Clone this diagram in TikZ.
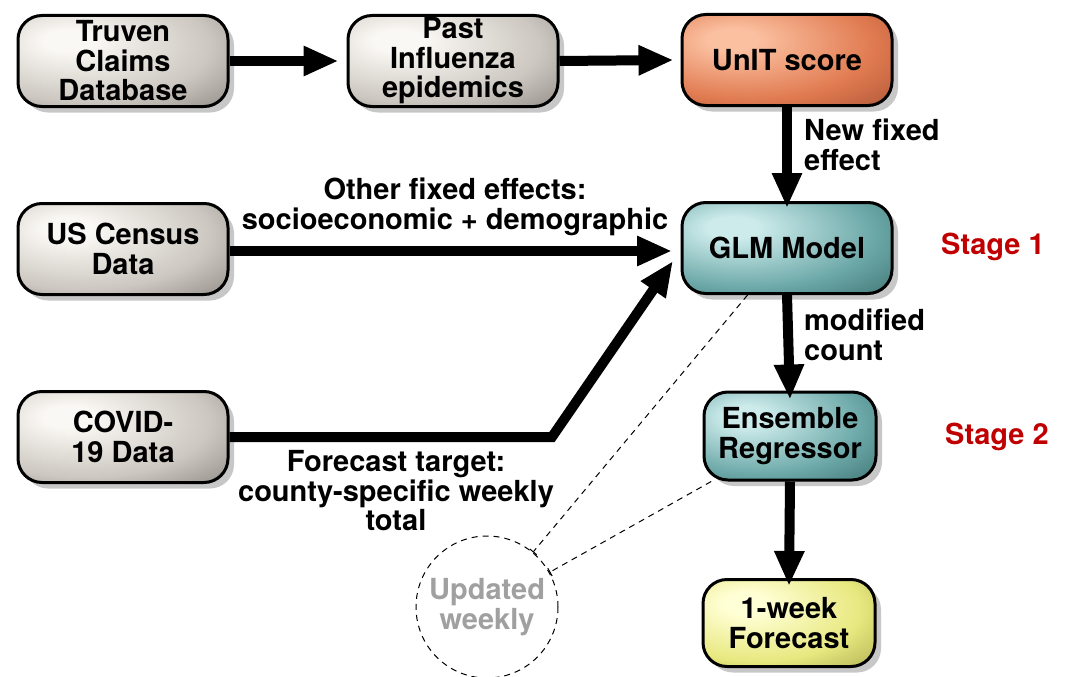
\documentclass[tikz,border=0pt]{standalone}
\usepackage{fontspec}
\setmainfont{TeX Gyre Heros}
\usetikzlibrary{arrows.meta,shadows,shapes.geometric}
\definecolor{ghi}{HTML}{FAF8F4}\definecolor{gmid}{HTML}{CCC7C0}\definecolor{glo}{HTML}{6E6A64}
\definecolor{ohi}{HTML}{FBC0A0}\definecolor{omid}{HTML}{E07A50}\definecolor{olo}{HTML}{94442A}
\definecolor{thi}{HTML}{CDEBEB}\definecolor{tmid}{HTML}{6CA8A8}\definecolor{tlo}{HTML}{285858}
\definecolor{yhi}{HTML}{FFFFD6}\definecolor{ymid}{HTML}{E8E880}\definecolor{ylo}{HTML}{909036}
\definecolor{stagered}{HTML}{C00000}
\definecolor{updgray}{HTML}{A0A0A0}
\newcommand\mkboxshade[4]{\pgfdeclareradialshading{#1}{\pgfpoint{-14bp}{12bp}}{color(0bp)=(#2); color(6bp)=(#2); color(30bp)=(#3); color(55bp)=(#4); color(90bp)=(#4)}}
\mkboxshade{grayshade}{ghi}{gmid}{glo}
\mkboxshade{orangeshade}{ohi}{omid}{olo}
\mkboxshade{tealshade}{thi}{tmid}{tlo}
\mkboxshade{yellowshade}{yhi}{ymid}{ylo}
\tikzset{
  txt/.style={font=\bfseries\fontsize{29}{29.5}\selectfont, align=center, inner sep=1pt},
  boxbase/.style={txt, draw=black, line width=3pt, rounded corners=24pt,
    minimum width=210pt, minimum height=91pt,
    drop shadow={shadow xshift=6pt, shadow yshift=-6pt, fill=black!22, opacity=1}},
  graybox/.style={boxbase, shading=grayshade},
  orangebox/.style={boxbase, shading=orangeshade},
  tealbox/.style={boxbase, shading=tealshade},
  yellowbox/.style={boxbase, shading=yellowshade},
  bigarrow/.style={line width=10pt, -{Triangle[length=35pt,width=28pt]}},
  dashline/.style={line width=1pt, dash pattern=on 6pt off 5pt, -{Bar[width=9pt,line width=1pt]}},
}
\begin{document}
\begin{tikzpicture}[x=1pt,y=-1pt]
\useasboundingbox (0,0) rectangle (1066,677);
\node[graybox] (truven) at (123,61) {Truven\\Claims\\Database};
\node[graybox] (past) at (453,61) {Past\\Influenza\\epidemics};
\node[orangebox] (unit) at (787,60) {UnIT score};
\node[graybox] (census) at (123,249) {US Census\\Data};
\node[tealbox] (glm) at (787,248) {GLM Model};
\node[graybox] (covid) at (123,437) {COVID-\\19 Data};
\node[tealbox, minimum width=172pt, minimum height=88pt] (ens) at (790,436) {Ensemble\\Regressor};
\node[yellowbox, minimum width=172pt, minimum height=87pt] (fc) at (789,623) {1-week\\Forecast};
\node[txt, text=stagered] (s1) at (993,247) {Stage 1};
\node[txt, text=stagered] (s2) at (997,437) {Stage 2};
\node[circle, draw=black, line width=1pt, dash pattern=on 6pt off 5pt, minimum size=142pt] (upd) at (487,607) {};
\node[txt, text=updgray] (updt) at (487,607) {Updated\\weekly};
\node[txt] (lother) at (455,207) {Other fixed effects:\\socioeconomic + demographic};
\node[txt, anchor=west, align=left] (lnew) at (803,145) {New fixed\\effect};
\node[txt, anchor=west, align=left] (lmod) at (803,335) {modified\\count};
\node[txt] (lfc) at (396,491) {Forecast target:\\county-specific weekly\\total};
\coordinate (bend) at (552,437);
\draw[bigarrow] (truven.east) -- ([xshift=-8pt]past.west);
\draw[bigarrow] (past.east) -- ([xshift=-7pt]unit.west);
\draw[bigarrow] (unit.south) -- ([yshift=-7pt]glm.north);
\draw[bigarrow] (census.east |- 0,251) -- (672,251) coordinate (cend);
\draw[bigarrow, line join=miter] (covid.east) -- (bend) -- (673,261) coordinate (covend);
\draw[bigarrow] (glm.south) -- ([yshift=-9pt]ens.north);
\draw[bigarrow] (ens.south) -- ([yshift=-8pt]fc.north);
\draw[dashline] (glm.230) -- (upd.50);
\draw[dashline] (ens.210) -- (upd.29);
\end{tikzpicture}
\end{document}
